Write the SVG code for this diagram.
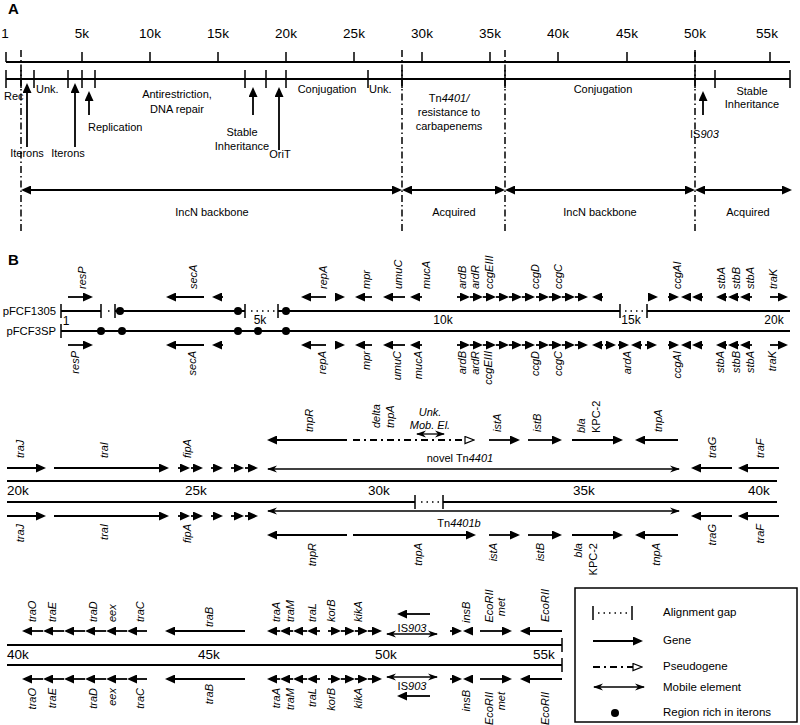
<svg xmlns="http://www.w3.org/2000/svg" width="800" height="725" viewBox="0 0 800 725">
<style>
text{font-family:"Liberation Sans",Arial,sans-serif;fill:#000}
.hd{font-size:15px;font-weight:bold}
.sc{font-size:13.5px}
.sc1{font-size:12px}
.pl{font-size:11.3px}
.lb{font-size:11px}
.lg{font-size:11.5px}
.i{font-style:italic}
.gl{font-size:11px;font-style:italic}
.e{text-anchor:end}
.m{text-anchor:middle}
.ln{stroke:#000;stroke-width:1.8;fill:none}
.tk{stroke:#000;stroke-width:1.5;fill:none}
.g{stroke:#000;stroke-width:1.8;fill:none;marker-end:url(#ah)}
.up{stroke:#000;stroke-width:1.8;fill:none;marker-end:url(#ah)}
.bi{stroke:#000;stroke-width:1.8;fill:none;marker-start:url(#ah);marker-end:url(#ah)}
.mob{stroke:#000;stroke-width:1.3;fill:none;marker-start:url(#mh);marker-end:url(#mh)}
.ps{stroke:#000;stroke-width:1.8;fill:none;stroke-dasharray:7 4 2 4;marker-end:url(#ph)}
.dd{stroke:#000;stroke-width:1.5;stroke-dasharray:7 3 1.5 3;fill:none}
.dt{stroke:#000;stroke-width:1.6;stroke-dasharray:1.5 4;fill:none}
</style>
<defs>
<marker id="ah" markerUnits="userSpaceOnUse" markerWidth="10" markerHeight="9" refX="8" refY="4.5" orient="auto-start-reverse"><path d="M0,0 L10,4.5 L0,9 z" fill="#000"/></marker>
<marker id="mh" markerUnits="userSpaceOnUse" markerWidth="10" markerHeight="8" refX="9" refY="4" orient="auto-start-reverse"><path d="M0,0.5 L10,4 L0,7.5 L3,4 z" fill="#000"/></marker>
<marker id="ph" markerUnits="userSpaceOnUse" markerWidth="11" markerHeight="9" refX="9" refY="4.5" orient="auto"><path d="M1,1 L10,4.5 L1,8 z" fill="#fff" stroke="#000" stroke-width="1.2"/></marker>
</defs>
<rect width="800" height="725" fill="#fff"/>

<!-- PANEL A -->
<g id="panelA">
<text class="hd" x="8" y="14">A</text>
<g id="A-scale" class="sc">
<text x="5" y="38" class="m">1</text>
<text x="82" y="38" class="m">5k</text>
<text x="150" y="38" class="m">10k</text>
<text x="218" y="38" class="m">15k</text>
<text x="286" y="38" class="m">20k</text>
<text x="354" y="38" class="m">25k</text>
<text x="422" y="38" class="m">30k</text>
<text x="490" y="38" class="m">35k</text>
<text x="558" y="38" class="m">40k</text>
<text x="627" y="38" class="m">45k</text>
<text x="695" y="38" class="m">50k</text>
<text x="767" y="38" class="m">55k</text>
</g>
<path class="ln" d="M6 62 H790"/>
<path class="tk" d="M6 52V62M82 52V62M150 52V62M218 52V62M286 52V62M354 52V62M422 52V62M490 52V62M558 52V62M627 52V62M695 52V62M770 52V62"/>
<path class="ln" d="M6 79 H790"/>
<path class="tk" d="M6 70V88M21 70V88M34 70V88M68 70V88M82 70V88M95 70V88M245 70V88M266 70V88M286 70V88M368 70V88M402 70V88M505 70V88M695 70V88M715 70V88M790 70V88"/>
<path class="dd" d="M21 50V232M402 50V232M505 50V232M695 50V232"/>
<g id="A-labels" class="lb">
<text x="4" y="100">Rec</text>
<text x="36" y="93">Unk.</text>
<text x="177" y="98" class="m">Antirestriction,</text>
<text x="177" y="113" class="m">DNA repair</text>
<text x="327" y="93" class="m">Conjugation</text>
<text x="369" y="93">Unk.</text>
<text x="449" y="102" class="m">Tn<tspan class="i">4401/</tspan></text>
<text x="449" y="116" class="m">resistance to</text>
<text x="449" y="130" class="m">carbapenems</text>
<text x="603" y="93" class="m">Conjugation</text>
<text x="752" y="95" class="m">Stable</text>
<text x="752" y="108" class="m">Inheritance</text>
<text x="88" y="131">Replication</text>
<text x="242" y="136" class="m">Stable</text>
<text x="242" y="150" class="m">Inheritance</text>
<text x="27" y="157" class="m">Iterons</text>
<text x="68" y="157" class="m">Iterons</text>
<text x="280" y="158" class="m">OriT</text>
<text x="690" y="138">IS<tspan class="i">903</tspan></text>
</g>
<g id="A-pointers">
<path class="up" d="M27 147V85"/>
<path class="up" d="M75 147V85"/>
<path class="up" d="M89 115V93"/>
<path class="up" d="M253 115V89"/>
<path class="up" d="M279 150V89"/>
<path class="up" d="M703 115V93"/>
</g>
<g id="A-regions">
<path class="bi" d="M23 190H400"/>
<path class="bi" d="M404 190H503"/>
<path class="bi" d="M507 190H693"/>
<path class="bi" d="M697 190H790"/>
<text class="lb m" x="212" y="216">IncN backbone</text>
<text class="lb m" x="454" y="216">Acquired</text>
<text class="lb m" x="600" y="216">IncN backbone</text>
<text class="lb m" x="748" y="216">Acquired</text>
</g>
</g>

<!-- PANEL B -->
<text class="hd" x="8" y="265">B</text>

<!-- Section 1 -->
<g id="sec1">
<text class="pl e" x="56" y="315">pFCF1305</text>
<text class="pl e" x="56" y="335">pFCF3SP</text>
<path class="ln" d="M61 311H101M115 311H245M278 311H620M647 311H790"/>
<path class="tk" d="M61 304V318M101 304V318M115 304V318M245 304V318M278 304V318M620 304V318M647 304V318"/>
<path class="dt" d="M108 311H111M251 311H276M625 311H645"/>
<path class="ln" d="M61 331H790"/>
<path class="tk" d="M61 324V338"/>
<g id="iterons" fill="#000">
<circle cx="120" cy="311" r="4"/><circle cx="238" cy="311" r="4"/><circle cx="286" cy="311" r="4"/>
<circle cx="101" cy="331" r="4"/><circle cx="122" cy="331" r="4"/><circle cx="238" cy="331" r="4"/><circle cx="258" cy="331" r="4"/><circle cx="286" cy="331" r="4"/>
</g>
<g class="sc1">
<text x="66" y="325" class="m">1</text>
<text x="260" y="324" class="m">5k</text>
<text x="443" y="324" class="m">10k</text>
<text x="631" y="324" class="m">15k</text>
<text x="774" y="324" class="m">20k</text>
</g>
<g id="s1-top-genes">
<path class="g" d="M68 297H91"/>
<path class="g" d="M204 297H168"/>
<path class="g" d="M223 297H214"/>
<path class="g" d="M326 297H303"/>
<path class="g" d="M335 297H343"/>
<path class="g" d="M372 297H357"/>
<path class="g" d="M405 297H385"/>
<path class="g" d="M422 297H412"/>
<path class="g" d="M457 297H468"/><path class="g" d="M470 297H481"/><path class="g" d="M483 297H494"/><path class="g" d="M496 297H507"/><path class="g" d="M509 297H520"/>
<path class="g" d="M522 297H533"/><path class="g" d="M536 297H547"/><path class="g" d="M549 297H560"/><path class="g" d="M562 297H573"/><path class="g" d="M575 297H586"/>
<path class="g" d="M603 297H594"/>
<path class="g" d="M648 297H656"/>
<path class="g" d="M668 297H677"/>
<path class="g" d="M691 297H683"/><path class="g" d="M703 297H694"/>
<path class="g" d="M727 297H718"/><path class="g" d="M739 297H730"/><path class="g" d="M752 297H742"/>
<path class="g" d="M770 297H786"/>
</g>
<g id="s1-top-labels">
<text class="gl" transform="translate(86,289) rotate(-90)">resP</text>
<text class="gl" transform="translate(197,289) rotate(-90)">secA</text>
<text class="gl" transform="translate(327,289) rotate(-90)">repA</text>
<text class="gl" transform="translate(370,289) rotate(-90)">mpr</text>
<text class="gl" transform="translate(402,289) rotate(-90)">umuC</text>
<text class="gl" transform="translate(430,289) rotate(-90)">mucA</text>
<text class="gl" transform="translate(466,289) rotate(-90)">ardB</text>
<text class="gl" transform="translate(479,289) rotate(-90)">ardR</text>
<text class="gl" transform="translate(493,289) rotate(-90)">ccgEIII</text>
<text class="gl" transform="translate(539,289) rotate(-90)">ccgD</text>
<text class="gl" transform="translate(562,289) rotate(-90)">ccgC</text>
<text class="gl" transform="translate(681,289) rotate(-90)">ccgAI</text>
<text class="gl" transform="translate(725,289) rotate(-90)">stbA</text>
<text class="gl" transform="translate(740,289) rotate(-90)">stbB</text>
<text class="gl" transform="translate(754,289) rotate(-90)">stbA</text>
<text class="gl" transform="translate(777,289) rotate(-90)">traK</text>
</g>
<g id="s1-bot-genes">
<path class="g" d="M68 345H91"/>
<path class="g" d="M204 345H168"/>
<path class="g" d="M223 345H214"/>
<path class="g" d="M326 345H303"/>
<path class="g" d="M335 345H343"/>
<path class="g" d="M372 345H357"/>
<path class="g" d="M405 345H385"/>
<path class="g" d="M422 345H412"/>
<path class="g" d="M457 345H468"/><path class="g" d="M470 345H481"/><path class="g" d="M483 345H494"/><path class="g" d="M496 345H507"/><path class="g" d="M509 345H520"/>
<path class="g" d="M522 345H533"/><path class="g" d="M536 345H547"/><path class="g" d="M549 345H560"/><path class="g" d="M562 345H573"/><path class="g" d="M575 345H586"/>
<path class="g" d="M603 345H594"/>
<path class="g" d="M605 345H614"/><path class="g" d="M618 345H627"/>
<path class="g" d="M642 345H633"/>
<path class="g" d="M645 345H655"/>
<path class="g" d="M668 345H677"/>
<path class="g" d="M691 345H683"/><path class="g" d="M703 345H694"/>
<path class="g" d="M727 345H718"/><path class="g" d="M739 345H730"/><path class="g" d="M752 345H742"/>
<path class="g" d="M770 345H786"/>
</g>
<g id="s1-bot-labels">
<text class="gl e" transform="translate(79,351) rotate(-90)">resP</text>
<text class="gl e" transform="translate(196,351) rotate(-90)">secA</text>
<text class="gl e" transform="translate(326,351) rotate(-90)">repA</text>
<text class="gl e" transform="translate(370,351) rotate(-90)">mpr</text>
<text class="gl e" transform="translate(401,351) rotate(-90)">umuC</text>
<text class="gl e" transform="translate(422,351) rotate(-90)">mucA</text>
<text class="gl e" transform="translate(466,351) rotate(-90)">ardB</text>
<text class="gl e" transform="translate(479,351) rotate(-90)">ardR</text>
<text class="gl e" transform="translate(492,351) rotate(-90)">ccgEIII</text>
<text class="gl e" transform="translate(539,351) rotate(-90)">ccgD</text>
<text class="gl e" transform="translate(562,351) rotate(-90)">ccgC</text>
<text class="gl e" transform="translate(631,351) rotate(-90)">ardA</text>
<text class="gl e" transform="translate(681,351) rotate(-90)">ccgAI</text>
<text class="gl e" transform="translate(724,351) rotate(-90)">stbA</text>
<text class="gl e" transform="translate(740,351) rotate(-90)">stbB</text>
<text class="gl e" transform="translate(754,351) rotate(-90)">stbA</text>
<text class="gl e" transform="translate(776,351) rotate(-90)">traK</text>
</g>
</g>

<!-- Section 2 -->
<g id="sec2">
<path class="ln" d="M7 481H777"/>
<path class="ln" d="M7 502H415M443 502H777"/>
<path class="tk" d="M415 495V509M443 495V509"/>
<path class="dt" d="M421 502H440"/>
<g class="sc">
<text x="7" y="495">20k</text>
<text x="185" y="495">25k</text>
<text x="368" y="495">30k</text>
<text x="573" y="495">35k</text>
<text x="748" y="495">40k</text>
</g>
<g id="s2-top-genes">
<path class="g" d="M7 468H44"/>
<path class="g" d="M54 468H167"/>
<path class="g" d="M178 468H188"/><path class="g" d="M191 468H201"/>
<path class="g" d="M211 468H221"/>
<path class="g" d="M231 468H242"/><path class="g" d="M245 468H256"/>
<path class="g" d="M732 468H693"/>
<path class="g" d="M779 468H740"/>
</g>
<g id="novel-Tn4401">
<path class="mob" d="M268 469H679"/>
<text class="lb m" x="460" y="462">novel Tn<tspan class="i">4401</tspan></text>
</g>
<g id="s2-tn-top">
<path class="g" d="M347 440H269"/>
<path class="ps" d="M353 440H473"/>
<path class="g" d="M489 440H518"/>
<path class="g" d="M528 440H560"/>
<path class="g" d="M572 440H621"/>
<path class="g" d="M678 440H637"/>
<path class="mob" d="M417 434H444"/>
<text class="lb i m" x="430" y="416">Unk.</text>
<text class="lb i m" x="430" y="429">Mob. El.</text>
</g>
<g id="s2-top-labels">
<text class="gl" transform="translate(24,458) rotate(-90)">traJ</text>
<text class="gl" transform="translate(108,458) rotate(-90)">traI</text>
<text class="gl" transform="translate(191,458) rotate(-90)">fipA</text>
<text class="gl" transform="translate(716,458) rotate(-90)">traG</text>
<text class="gl" transform="translate(764,458) rotate(-90)">traF</text>
<text class="gl" transform="translate(313,432) rotate(-90)">tnpR</text>
<text class="gl" transform="translate(380,428) rotate(-90)">delta</text>
<text class="gl" transform="translate(394,428) rotate(-90)">tnpA</text>
<text class="gl" transform="translate(501,432) rotate(-90)">istA</text>
<text class="gl" transform="translate(541,432) rotate(-90)">istB</text>
<text class="gl" transform="translate(585,433) rotate(-90)">bla</text>
<text class="lb" transform="translate(600,433) rotate(-90)">KPC-2</text>
<text class="gl" transform="translate(662,432) rotate(-90)">tnpA</text>
</g>
<g id="s2-bot-genes">
<path class="g" d="M7 516H44"/>
<path class="g" d="M54 516H167"/>
<path class="g" d="M178 516H188"/><path class="g" d="M191 516H201"/>
<path class="g" d="M211 516H221"/>
<path class="g" d="M231 516H242"/><path class="g" d="M245 516H256"/>
<path class="g" d="M732 516H693"/>
<path class="g" d="M779 516H740"/>
</g>
<g id="Tn4401b">
<path class="mob" d="M268 511H679"/>
<text class="lb m" x="459" y="527">Tn<tspan class="i">4401b</tspan></text>
</g>
<g id="s2-tn-bot">
<path class="g" d="M347 535H269"/>
<path class="g" d="M353 535H474"/>
<path class="g" d="M489 535H518"/>
<path class="g" d="M528 535H560"/>
<path class="g" d="M572 535H621"/>
<path class="g" d="M678 535H637"/>
</g>
<g id="s2-bot-labels">
<text class="gl e" transform="translate(24,524) rotate(-90)">traJ</text>
<text class="gl e" transform="translate(108,524) rotate(-90)">traI</text>
<text class="gl e" transform="translate(191,524) rotate(-90)">fipA</text>
<text class="gl e" transform="translate(716,524) rotate(-90)">traG</text>
<text class="gl e" transform="translate(764,524) rotate(-90)">traF</text>
<text class="gl e" transform="translate(316,543) rotate(-90)">tnpR</text>
<text class="gl e" transform="translate(422,543) rotate(-90)">tnpA</text>
<text class="gl e" transform="translate(497,543) rotate(-90)">istA</text>
<text class="gl e" transform="translate(544,543) rotate(-90)">istB</text>
<text class="gl e" transform="translate(582,543) rotate(-90)">bla</text>
<text class="lb e" transform="translate(597,543) rotate(-90)">KPC-2</text>
<text class="gl e" transform="translate(660,543) rotate(-90)">tnpA</text>
</g>
</g>

<!-- Section 3 -->
<g id="sec3">
<path class="ln" d="M7 645H562M7 665H562"/>
<path class="tk" d="M562 638V652M562 658V672"/>
<g class="sc">
<text x="7" y="659">40k</text>
<text x="198" y="659">45k</text>
<text x="375" y="659">50k</text>
<text x="533" y="659">55k</text>
</g>
<g id="s3-top-genes">
<path class="g" d="M43 631H24"/><path class="g" d="M64 631H45"/><path class="g" d="M85 631H66"/><path class="g" d="M106 631H87"/><path class="g" d="M127 631H108"/><path class="g" d="M147 631H129"/>
<path class="g" d="M245 631H167"/>
<path class="g" d="M280 631H269"/><path class="g" d="M293 631H282"/><path class="g" d="M307 631H295"/><path class="g" d="M320 631H309"/>
<path class="g" d="M328 631H339"/><path class="g" d="M341 631H353"/><path class="g" d="M355 631H366"/><path class="g" d="M368 631H380"/>
<path class="g" d="M430 614H399"/>
<path class="mob" d="M387 634H437"/>
<path class="g" d="M450 631H460"/>
<path class="g" d="M473 631H465"/>
<path class="g" d="M480 631H510"/>
<path class="g" d="M562 631H522"/>
<text class="lb m" x="412" y="632">IS<tspan class="i">903</tspan></text>
</g>
<g id="s3-top-labels">
<text class="gl" transform="translate(36,622) rotate(-90)">traO</text>
<text class="gl" transform="translate(56,622) rotate(-90)">traE</text>
<text class="gl" transform="translate(97,622) rotate(-90)">traD</text>
<text class="gl" transform="translate(116,622) rotate(-90)">eex</text>
<text class="gl" transform="translate(144,622) rotate(-90)">traC</text>
<text class="gl" transform="translate(213,627) rotate(-90)">traB</text>
<text class="gl" transform="translate(280,622) rotate(-90)">traA</text>
<text class="gl" transform="translate(294,622) rotate(-90)">traM</text>
<text class="gl" transform="translate(316,622) rotate(-90)">traL</text>
<text class="gl" transform="translate(335,622) rotate(-90)">korB</text>
<text class="gl" transform="translate(362,622) rotate(-90)">kikA</text>
<text class="gl" transform="translate(470,623) rotate(-90)">insB</text>
<text class="gl m" transform="translate(493,606) rotate(-90)">EcoRII</text>
<text class="gl m" transform="translate(505,607) rotate(-90)">met</text>
<text class="gl" transform="translate(549,622) rotate(-90)">EcoRII</text>
</g>
<g id="s3-bot-genes">
<path class="g" d="M43 679H24"/><path class="g" d="M64 679H45"/><path class="g" d="M85 679H66"/><path class="g" d="M106 679H87"/><path class="g" d="M127 679H108"/><path class="g" d="M147 679H129"/>
<path class="g" d="M245 679H167"/>
<path class="g" d="M280 679H269"/><path class="g" d="M293 679H282"/><path class="g" d="M307 679H295"/><path class="g" d="M320 679H309"/>
<path class="g" d="M328 679H339"/><path class="g" d="M341 679H353"/><path class="g" d="M355 679H366"/><path class="g" d="M368 679H380"/>
<path class="mob" d="M387 677H437"/>
<path class="g" d="M430 696H399"/>
<path class="g" d="M450 679H460"/>
<path class="g" d="M473 679H465"/>
<path class="g" d="M480 679H510"/>
<path class="g" d="M562 679H522"/>
<text class="lb m" x="412" y="690">IS<tspan class="i">903</tspan></text>
</g>
<g id="s3-bot-labels">
<text class="gl e" transform="translate(36,688) rotate(-90)">traO</text>
<text class="gl e" transform="translate(56,688) rotate(-90)">traE</text>
<text class="gl e" transform="translate(97,688) rotate(-90)">traD</text>
<text class="gl e" transform="translate(116,688) rotate(-90)">eex</text>
<text class="gl e" transform="translate(144,688) rotate(-90)">traC</text>
<text class="gl e" transform="translate(213,684) rotate(-90)">traB</text>
<text class="gl e" transform="translate(280,688) rotate(-90)">traA</text>
<text class="gl e" transform="translate(294,688) rotate(-90)">traM</text>
<text class="gl e" transform="translate(316,688) rotate(-90)">traL</text>
<text class="gl e" transform="translate(335,688) rotate(-90)">korB</text>
<text class="gl e" transform="translate(362,688) rotate(-90)">kikA</text>
<text class="gl e" transform="translate(470,690) rotate(-90)">insB</text>
<text class="gl e" transform="translate(493,692) rotate(-90)">EcoRII</text>
<text class="gl e" transform="translate(505,692) rotate(-90)">met</text>
<text class="gl e" transform="translate(549,692) rotate(-90)">EcoRII</text>
</g>
</g>

<!-- Legend -->
<g id="legend">
<rect x="575" y="588" width="222" height="134" fill="none" stroke="#000" stroke-width="1.5"/>
<path class="tk" d="M593 606V620M632 606V620"/>
<path class="dt" d="M598 613H629"/>
<path class="g" d="M593 641H641"/>
<path class="ps" d="M593 667H641"/>
<path class="mob" d="M594 687H644"/>
<circle cx="615" cy="713" r="4" fill="#000"/>
<g class="lg">
<text x="663" y="616">Alignment gap</text>
<text x="663" y="644">Gene</text>
<text x="663" y="670">Pseudogene</text>
<text x="663" y="691">Mobile element</text>
<text x="663" y="716">Region rich in iterons</text>
</g>
</g>
</svg>
